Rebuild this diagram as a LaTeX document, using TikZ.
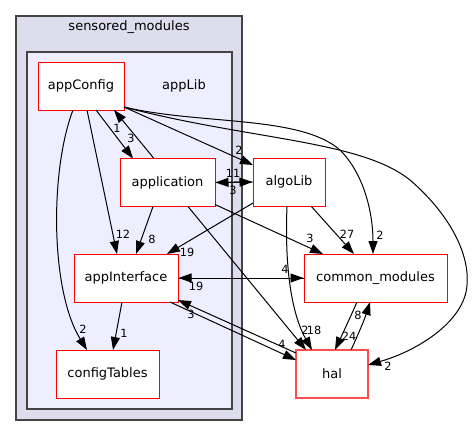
\documentclass[tikz,border=0pt]{standalone}
\usepackage{fontspec}
\setmainfont{DejaVu Sans}
\usetikzlibrary{arrows.meta,calc}
\definecolor{outerfill}{HTML}{DDDDEE}
\definecolor{innerfill}{HTML}{EEEEFF}
\definecolor{clborder}{HTML}{444444}
\definecolor{halred}{HTML}{FF4D4D}
\begin{document}
\begin{tikzpicture}[x=1pt,y=-1pt,
  cluster/.style={draw=clborder, line width=1.3pt, inner sep=0pt},
  dnode/.style={draw=red, fill=white, line width=1pt, minimum width=#1, minimum height=48pt, inner sep=0pt, font=\fontsize{13}{15}\selectfont},
  ctitle/.style={inner sep=0pt, font=\fontsize{13}{15}\selectfont},
  dep/.style={draw=black, line width=1pt, -{Triangle[length=13pt,width=9pt]}},
  lbl/.style={inner sep=0pt, font=\fontsize{11.3}{13}\selectfont}
]
\useasboundingbox (0,0) rectangle (473,436);
\fill[white] (0,0) rectangle (473,436);
% clusters
\node[cluster, fill=outerfill, minimum width=226pt, minimum height=404pt] (sensored) at (129,218) {};
\node[ctitle] (sensoredT) at (129,27) {sensored\_modules};
\node[cluster, fill=innerfill, minimum width=205pt, minimum height=357pt] (appLibC) at (129.5,230.5) {};
\node[ctitle] (appLibT) at (184,86) {appLib};
% nodes
\node[dnode=86pt] (appConfig) at (81,86) {appConfig};
\node[dnode=95pt] (application) at (167.5,182.5) {application};
\node[dnode=72pt] (algoLib) at (289,182) {algoLib};
\node[dnode=104pt] (appInterface) at (126,278) {appInterface};
\node[dnode=143pt] (common) at (375.5,278) {common\_modules};
\node[dnode=103pt] (configTables) at (107.5,374) {configTables};
\node[dnode=72pt, draw=halred, line width=1.4pt] (hal) at (332,374) {hal};
% edges
\draw[dep] ($(appConfig)+(15,24)$) -- ($(application)+(-34.5,-24)$);
\draw[dep] ($(application)+(-13.5,-24)$) -- ($(appConfig)+(33,24)$);
\draw[dep] ($(appConfig)+(43,21)$) -- ($(algoLib)+(-36,-17)$);
\draw[dep] ($(appConfig)+(43,21)$) .. controls (200,125) and (300,115) .. (340,150)
   .. controls (365,175) and (373,215) .. ($(common)+(-2.5,-24)$);
\draw[dep] ($(appConfig)+(43,21)$) .. controls (250,140) and (360,140) .. (410,180)
   .. controls (445,210) and (470,250) .. (467,285)
   .. controls (465,320) and (420,350) .. ($(hal)+(36,-9)$);
\draw[dep] ($(appConfig)+(6,24)$) -- ($(appInterface)+(-9,-24)$);
\draw[dep] ($(appConfig)+(-8,24)$) .. controls (50,170) and (50,290) .. ($(configTables)+(-20.5,-24)$);
\draw[dep] (application.east) -- (algoLib.west);
\draw[dep] (algoLib.west) -- (application.east);
\draw[dep] ($(application)+(-14.5,24)$) -- ($(appInterface)+(10,-24)$);
\draw[dep] ($(application)+(47.5,22)$) -- ($(common)+(-52.5,-24)$);
\draw[dep] ($(application)+(20.5,24)$) -- ($(hal)+(-26,-24)$);
\draw[dep] ($(algoLib)+(-36,21)$) -- ($(appInterface)+(41,-24)$);
\draw[dep] ($(algoLib)+(22,24)$) -- ($(common)+(-21.5,-24)$);
\draw[dep] ($(algoLib)+(-2,24)$) .. controls (284,280) and (295,320) .. ($(hal)+(-20,-24)$);
\draw[dep] (appInterface.east) -- (common.west);
\draw[dep] (common.west) -- (appInterface.east);
\draw[dep] ($(appInterface)+(44,24)$) -- ($(hal)+(-36,-14)$);
\draw[dep] ($(hal)+(-36,-21)$) -- ($(appInterface)+(52,22)$);
\draw[dep] ($(appInterface)+(-4,24)$) -- ($(configTables)+(5.5,-24)$);
\draw[dep] ($(common)+(-18.5,24)$) .. controls (350,318) and (342,335) .. ($(hal)+(3,-24)$);
\draw[dep] ($(hal)+(19,-24)$) .. controls (358,335) and (365,318) .. ($(common)+(-5.5,24)$);
% labels
\node[lbl] (l1) at (131,138) {3};
\node[lbl] (l2) at (117,128) {1};
\node[lbl] (l3) at (239,150) {2};
\node[lbl] (l4) at (380,235) {2};
\node[lbl] (l5) at (388,366) {2};
\node[lbl] (l6) at (123,234) {12};
\node[lbl] (l7) at (83,329) {2};
\node[lbl] (l8) at (233,173) {11};
\node[lbl] (l9) at (233,190) {3};
\node[lbl] (l10) at (152,239) {8};
\node[lbl] (l11) at (310,238) {3};
\node[lbl] (l12) at (305,330) {2};
\node[lbl] (l13) at (187,252) {19};
\node[lbl] (l14) at (347,234) {27};
\node[lbl] (l15) at (314,330) {18};
\node[lbl] (l16) at (285,269) {4};
\node[lbl] (l17) at (196,286) {19};
\node[lbl] (l18) at (282,344) {4};
\node[lbl] (l19) at (191,314) {3};
\node[lbl] (l20) at (124,333) {1};
\node[lbl] (l21) at (349,336) {24};
\node[lbl] (l22) at (358,315) {8};
\end{tikzpicture}
\end{document}
